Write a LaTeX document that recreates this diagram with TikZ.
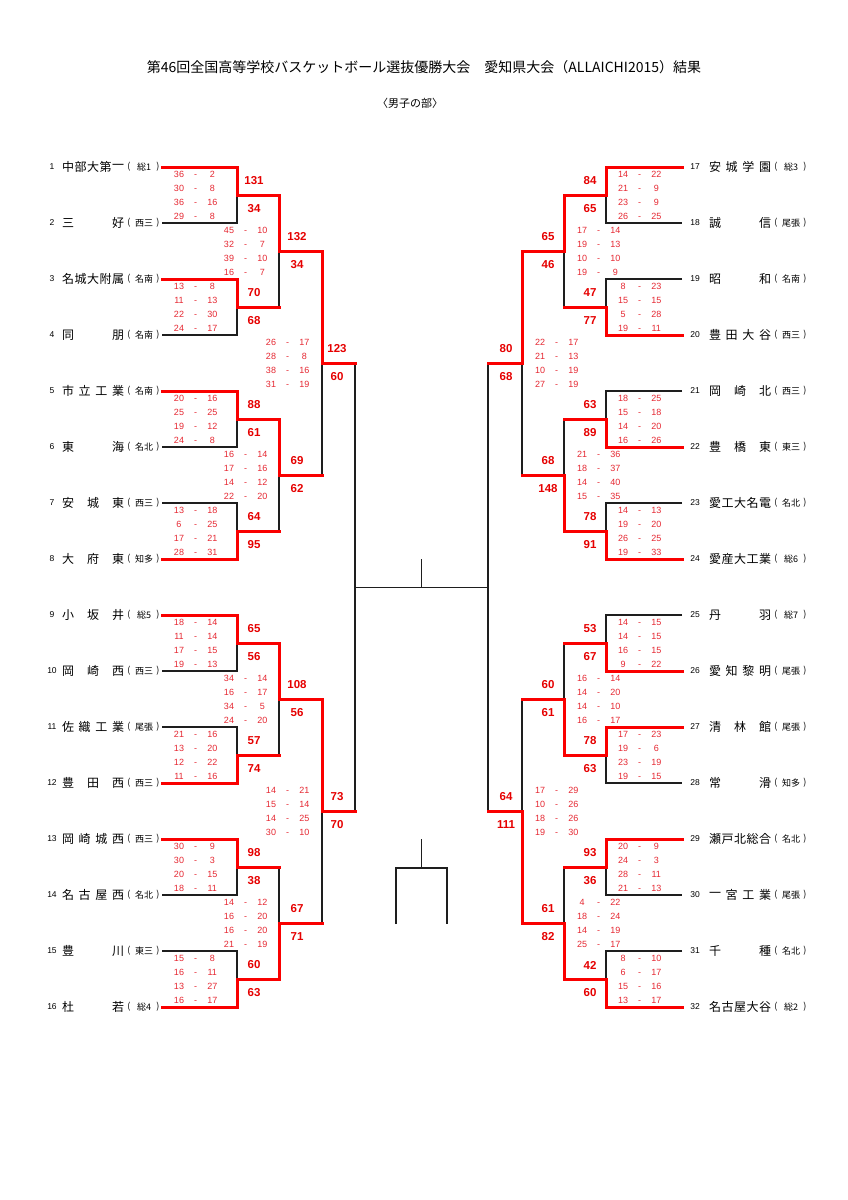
\documentclass[tikz,border=0pt]{standalone}
\usepackage{fontspec}
\setmainfont{Liberation Sans}
\newfontfamily\jp{Noto Sans CJK JP}
\definecolor{lred}{RGB}{250,0,0}
\definecolor{qred}{RGB}{230,40,50}
\definecolor{tred}{RGB}{230,0,0}
\definecolor{lblk}{RGB}{30,30,30}
\pgfdeclarelayer{back}
\pgfdeclarelayer{bg}
\pgfsetlayers{back,bg,main}
\tikzset{
  bl/.style={draw=lblk, line width=1.3pt},
  rd/.style={draw=lred, line width=3pt, line cap=rect, line join=miter},
  numf/.style={inner sep=0pt, font=\fontsize{8.5}{9}\selectfont},
  namef/.style={inner sep=0pt, font=\jp\fontsize{12}{13}\selectfont},
  regf/.style={inner sep=0pt, font=\jp\fontsize{9}{10}\selectfont},
  qf/.style={inner sep=0pt, text height=6.5pt, text depth=0pt, text=qred, font=\fontsize{9}{9}\selectfont},
  tf/.style={inner sep=0pt, text=tred, font=\bfseries\fontsize{11.5}{12}\selectfont},
}
% team row: #1 number x, #2 first char x, #3 num, #4 y, #5 char count, #6 chars, #7 region
\newcommand\team[7]{%
  \node[numf] (n#3) at (#1,#4) {#3};
  \foreach \ch [count=\i] in {#6} {\node[namef] (t#3c\i) at ({#2+(\i-1)*50/(#5-1)},#4) {\ch};}
  \node[regf] (po#3) at ({#2+61},#4) {(};
  \node[regf] (r#3) at ({#2+76},#4) {#7};
  \node[regf] (pc#3) at ({#2+90},#4) {)};
}
% scores: #1 id, #2 left x, #3 mid y, #4 pairs, #5 total x, #6 top total, #7 bottom total
\newcommand\scores[7]{%
  \foreach \qa/\qb [count=\k] in {#4} {
    \node[qf] (s#1a\k) at (#2,{#3-35+14*\k}) {\qa};
    \node[qf] (s#1d\k) at ({#2+16.7},{#3-35+14*\k}) {-};
    \node[qf] (s#1b\k) at ({#2+33.3},{#3-35+14*\k}) {\qb};
  }
  \node[tf] (s#1t) at (#5,{#3-14}) {#6};
  \node[tf] (s#1u) at (#5,{#3+14}) {#7};
}
% first round: #1 x in, #2 x vertical, #3 x out, #4 y top, #5 y bottom, #6 winner t/b
\newcommand\firstm[6]{%
  \begin{pgfonlayer}{bg}
    \draw[bl] (#1,#4) -- (#2,#4) -- (#2,#5) -- (#1,#5);
  \end{pgfonlayer}
  \ifx t#6
    \draw[rd] (#1,#4) -- (#2,#4) -- (#2,{(#4+#5)/2}) -- (#3,{(#4+#5)/2});
  \else
    \draw[rd] (#1,#5) -- (#2,#5) -- (#2,{(#4+#5)/2}) -- (#3,{(#4+#5)/2});
  \fi
}
% later round: #1 x vertical, #2 x out, #3 y top, #4 y bottom, #5 winner t/b
\newcommand\laterm[5]{%
  \begin{pgfonlayer}{bg}
    \draw[bl] (#1,#3) -- (#1,#4);
  \end{pgfonlayer}
  \ifx t#5
    \draw[rd] (#1,#3) -- (#1,{(#3+#4)/2}) -- (#2,{(#3+#4)/2});
  \else
    \draw[rd] (#1,#4) -- (#1,{(#3+#4)/2}) -- (#2,{(#3+#4)/2});
  \fi
}
\begin{document}
\begin{tikzpicture}[x=1pt,y=-1pt]
\begin{pgfonlayer}{back}
  \fill[white] (0,0) rectangle (848,1200);
\end{pgfonlayer}
\useasboundingbox (0,0) rectangle (848,1200);

% titles
\node[inner sep=0pt, font=\jp\fontsize{14}{15}\selectfont] (title) at (424,67)
  {第46回全国高等学校バスケットボール選抜優勝大会　愛知県大会（ALLAICHI2015）結果};
\node[inner sep=0pt, font=\jp\fontsize{11}{12}\selectfont] (sub) at (410,103) {〈男子の部〉};

% teams left
\team{52}{68}{1}{167}{5}{中,部,大,第,一}{総1}
\team{52}{68}{2}{223}{2}{三,好}{西三}
\team{52}{68}{3}{279}{5}{名,城,大,附,属}{名南}
\team{52}{68}{4}{335}{2}{同,朋}{名南}
\team{52}{68}{5}{391}{4}{市,立,工,業}{名南}
\team{52}{68}{6}{447}{2}{東,海}{名北}
\team{52}{68}{7}{503}{3}{安,城,東}{西三}
\team{52}{68}{8}{559}{3}{大,府,東}{知多}
\team{52}{68}{9}{615}{3}{小,坂,井}{総5}
\team{52}{68}{10}{671}{3}{岡,崎,西}{西三}
\team{52}{68}{11}{727}{4}{佐,織,工,業}{尾張}
\team{52}{68}{12}{783}{3}{豊,田,西}{西三}
\team{52}{68}{13}{839}{4}{岡,崎,城,西}{西三}
\team{52}{68}{14}{895}{4}{名,古,屋,西}{名北}
\team{52}{68}{15}{951}{2}{豊,川}{東三}
\team{52}{68}{16}{1007}{2}{杜,若}{総4}
% teams right
\team{695}{715}{17}{167}{4}{安,城,学,園}{総3}
\team{695}{715}{18}{223}{2}{誠,信}{尾張}
\team{695}{715}{19}{279}{2}{昭,和}{名南}
\team{695}{715}{20}{335}{4}{豊,田,大,谷}{西三}
\team{695}{715}{21}{391}{3}{岡,崎,北}{西三}
\team{695}{715}{22}{447}{3}{豊,橋,東}{東三}
\team{695}{715}{23}{503}{5}{愛,工,大,名,電}{名北}
\team{695}{715}{24}{559}{5}{愛,産,大,工,業}{総6}
\team{695}{715}{25}{615}{2}{丹,羽}{総7}
\team{695}{715}{26}{671}{4}{愛,知,黎,明}{尾張}
\team{695}{715}{27}{727}{3}{清,林,館}{尾張}
\team{695}{715}{28}{783}{2}{常,滑}{知多}
\team{695}{715}{29}{839}{5}{瀬,戸,北,総,合}{名北}
\team{695}{715}{30}{895}{4}{一,宮,工,業}{尾張}
\team{695}{715}{31}{951}{2}{千,種}{名北}
\team{695}{715}{32}{1007}{5}{名,古,屋,大,谷}{総2}

% brackets left
\firstm{162}{237}{279}{167}{223}{t}
\firstm{162}{237}{279}{279}{335}{t}
\firstm{162}{237}{279}{391}{447}{t}
\firstm{162}{237}{279}{503}{559}{b}
\firstm{162}{237}{279}{615}{671}{t}
\firstm{162}{237}{279}{727}{783}{b}
\firstm{162}{237}{279}{839}{895}{t}
\firstm{162}{237}{279}{951}{1007}{b}
\laterm{279}{322}{195}{307}{t}
\laterm{279}{322}{419}{531}{t}
\laterm{279}{322}{643}{755}{t}
\laterm{279}{322}{867}{979}{b}
\laterm{322}{355}{251}{475}{t}
\laterm{322}{355}{699}{923}{t}
% brackets right
\firstm{682}{606}{564}{167}{223}{t}
\firstm{682}{606}{564}{279}{335}{b}
\firstm{682}{606}{564}{391}{447}{b}
\firstm{682}{606}{564}{503}{559}{b}
\firstm{682}{606}{564}{615}{671}{b}
\firstm{682}{606}{564}{727}{783}{t}
\firstm{682}{606}{564}{839}{895}{t}
\firstm{682}{606}{564}{951}{1007}{b}
\laterm{564}{522}{195}{307}{t}
\laterm{564}{522}{419}{531}{b}
\laterm{564}{522}{643}{755}{b}
\laterm{564}{522}{867}{979}{b}
\laterm{522}{488}{251}{475}{t}
\laterm{522}{488}{699}{923}{b}

% semifinals and final
\begin{pgfonlayer}{bg}
  \draw[bl] (355,363) -- (355,811);
  \draw[bl] (488,363) -- (488,811);
  \draw[bl] (355,587.5) -- (488,587.5);
  \draw[bl] (421.5,559) -- (421.5,587.5);
  \draw[bl] (396,924) -- (396,868) -- (447,868) -- (447,924);
  \draw[bl] (421.5,839) -- (421.5,868);
\end{pgfonlayer}

% scores left
\scores{a1}{179}{195}{36/2,30/8,36/16,29/8}{254}{131}{34}
\scores{a2}{179}{307}{13/8,11/13,22/30,24/17}{254}{70}{68}
\scores{a3}{179}{419}{20/16,25/25,19/12,24/8}{254}{88}{61}
\scores{a4}{179}{531}{13/18,6/25,17/21,28/31}{254}{64}{95}
\scores{a5}{179}{643}{18/14,11/14,17/15,19/13}{254}{65}{56}
\scores{a6}{179}{755}{21/16,13/20,12/22,11/16}{254}{57}{74}
\scores{a7}{179}{867}{30/9,30/3,20/15,18/11}{254}{98}{38}
\scores{a8}{179}{979}{15/8,16/11,13/27,16/17}{254}{60}{63}
\scores{b1}{229}{251}{45/10,32/7,39/10,16/7}{297}{132}{34}
\scores{b2}{229}{475}{16/14,17/16,14/12,22/20}{297}{69}{62}
\scores{b3}{229}{699}{34/14,16/17,34/5,24/20}{297}{108}{56}
\scores{b4}{229}{923}{14/12,16/20,16/20,21/19}{297}{67}{71}
\scores{c1}{271}{363}{26/17,28/8,38/16,31/19}{337}{123}{60}
\scores{c2}{271}{811}{14/21,15/14,14/25,30/10}{337}{73}{70}
% scores right
\scores{d1}{623}{195}{14/22,21/9,23/9,26/25}{590}{84}{65}
\scores{d2}{623}{307}{8/23,15/15,5/28,19/11}{590}{47}{77}
\scores{d3}{623}{419}{18/25,15/18,14/20,16/26}{590}{63}{89}
\scores{d4}{623}{531}{14/13,19/20,26/25,19/33}{590}{78}{91}
\scores{d5}{623}{643}{14/15,14/15,16/15,9/22}{590}{53}{67}
\scores{d6}{623}{755}{17/23,19/6,23/19,19/15}{590}{78}{63}
\scores{d7}{623}{867}{20/9,24/3,28/11,21/13}{590}{93}{36}
\scores{d8}{623}{979}{8/10,6/17,15/16,13/17}{590}{42}{60}
\scores{e1}{582}{251}{17/14,19/13,10/10,19/9}{548}{65}{46}
\scores{e2}{582}{475}{21/36,18/37,14/40,15/35}{548}{68}{148}
\scores{e3}{582}{699}{16/14,14/20,14/10,16/17}{548}{60}{61}
\scores{e4}{582}{923}{4/22,18/24,14/19,25/17}{548}{61}{82}
\scores{f1}{540}{363}{22/17,21/13,10/19,27/19}{506}{80}{68}
\scores{f2}{540}{811}{17/29,10/26,18/26,19/30}{506}{64}{111}
\end{tikzpicture}
\end{document}
